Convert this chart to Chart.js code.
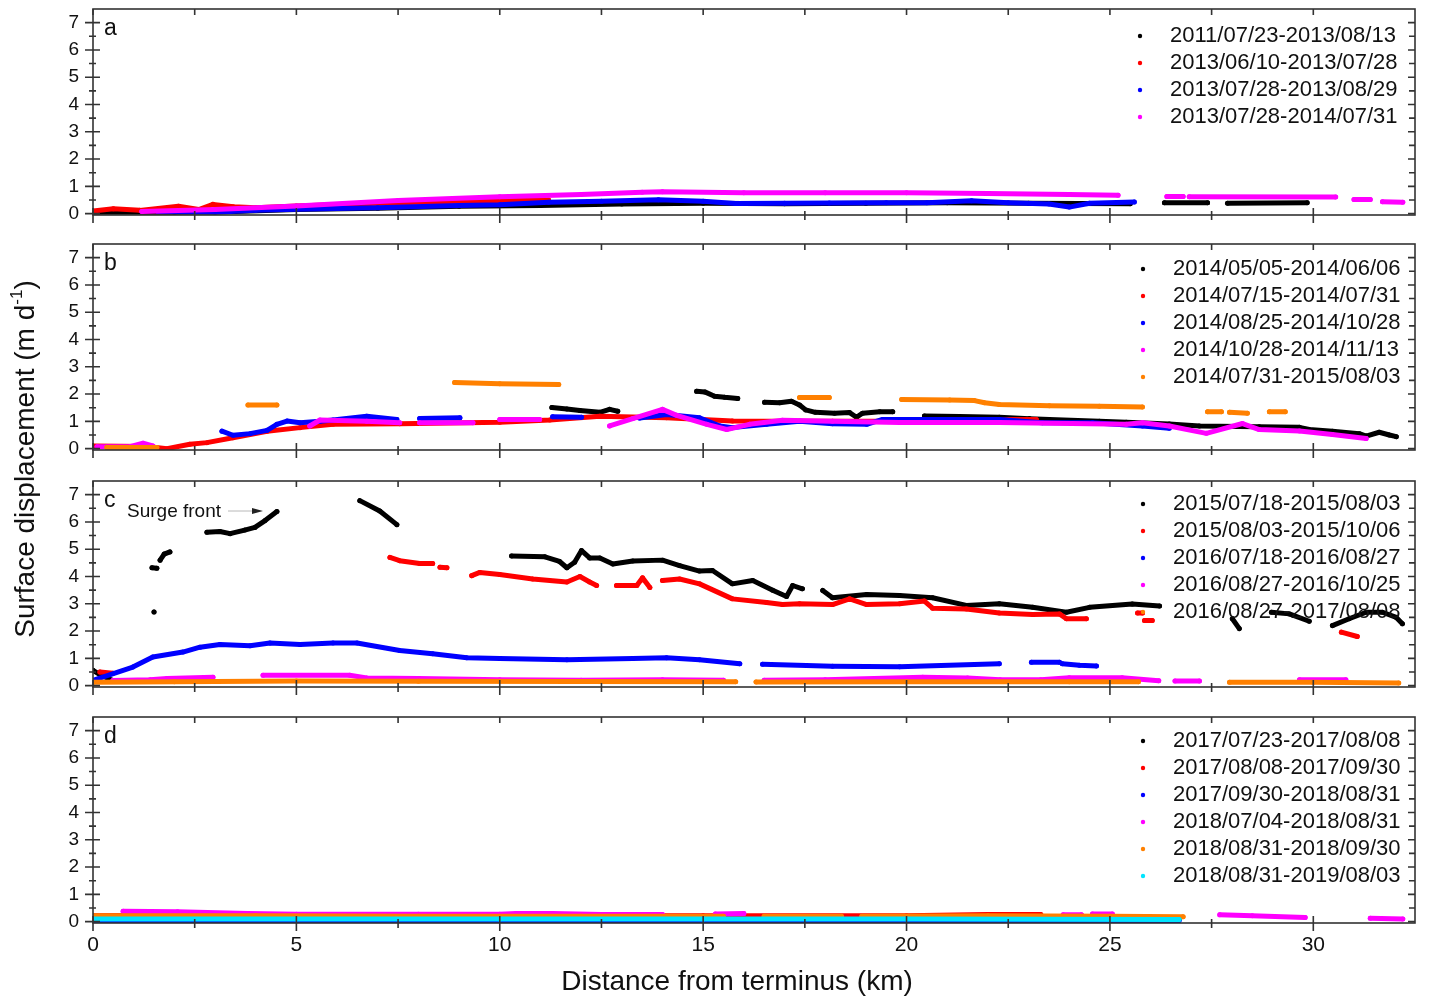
<!DOCTYPE html>
<html>
<head>
<meta charset="utf-8">
<title>Surface displacement along the glacier</title>
<script src="https://cdn.jsdelivr.net/npm/chart.js@4.4.1/dist/chart.umd.min.js"></script>
<style>
  html, body { margin: 0; padding: 0; background: #ffffff; overflow: hidden; }
  #wrap { position: relative; width: 1429px; height: 1000px; }
  #wrap canvas { position: absolute; left: 0; }
  .axis-title {
    position: absolute; width: 420px; height: 36px; line-height: 36px;
    text-align: center; white-space: nowrap; color: #111;
    font-family: "Liberation Sans", Arial, sans-serif; font-size: 28px;
  }
  #ytitle { left: -185px; top: 441px; transform: rotate(-90deg); transform-origin: 50% 50%; }
  #ytitle sup { font-size: 17px; vertical-align: 12px; line-height: 0; }
  #xtitle { left: 527px; top: 963px; }
</style>
</head>
<body>
<div id="wrap">
  <canvas id="pa"></canvas>
  <canvas id="pb"></canvas>
  <canvas id="pc"></canvas>
  <canvas id="pd"></canvas>
  <div id="ytitle" class="axis-title">Surface displacement (m d<sup>-1</sup>)</div>
  <div id="xtitle" class="axis-title">Distance from terminus (km)</div>
</div>
<script>
// ---- axis ticks ----
const xMajorTicks = [0, 5, 10, 15, 20, 25, 30];
const xMinorTicks = [2.5, 7.5, 12.5, 17.5, 22.5, 27.5, 32.5];
const yMajorTicks = [0, 1, 2, 3, 4, 5, 6, 7];
const yMinorTicks = [0.5, 1.5, 2.5, 3.5, 4.5, 5.5, 6.5];

// ---- legend labels (acquisition pairs) ----
const labelsA = ['2011/07/23-2013/08/13', '2013/06/10-2013/07/28', '2013/07/28-2013/08/29', '2013/07/28-2014/07/31'];
const labelsB = ['2014/05/05-2014/06/06', '2014/07/15-2014/07/31', '2014/08/25-2014/10/28', '2014/10/28-2014/11/13', '2014/07/31-2015/08/03'];
const labelsC = ['2015/07/18-2015/08/03', '2015/08/03-2015/10/06', '2016/07/18-2016/08/27', '2016/08/27-2016/10/25', '2016/08/27-2017/08/08'];
const labelsD = ['2017/07/23-2017/08/08', '2017/08/08-2017/09/30', '2017/09/30-2018/08/31', '2018/07/04-2018/08/31', '2018/08/31-2018/09/30', '2018/08/31-2019/08/03'];

// ---- profiles: [distance km, displacement m/d], split into continuous runs ----
// panel a
const a1 = [[[0,0.05],[2,0.05],[3.5,0.08],[5,0.15],[7,0.2],[9,0.27],[11,0.3],[13,0.35],[15,0.38],[17,0.36],[19,0.38],[21,0.4],[23,0.38],[25.5,0.36]],
            [[26.34,0.4],[27.4,0.4]], [[27.89,0.38],[29.85,0.4]]];
const a2 = [[[0,0.1],[0.5,0.18],[1.15,0.12],[2.1,0.27],[2.6,0.15],[2.95,0.34],[3.45,0.25],[4,0.22],[5,0.28],[7,0.38],[9,0.45],[10,0.48],[11.2,0.5]]];
const a3 = [[[1.6,0.08],[3,0.05],[4,0.12],[5,0.16],[7,0.22],[9,0.3],[10,0.33],[11.2,0.42],[12.5,0.45],[13.9,0.51],[15,0.45],[15.8,0.37],[17,0.38],[18.1,0.39],[19.5,0.4],[20.5,0.4],[21.6,0.47],[22.5,0.4],[23.5,0.35],[24,0.24],[24.5,0.38],[25.6,0.43]]];
const a4 = [[[1.2,0.08],[3,0.15],[5,0.28],[7.5,0.48],[10,0.62],[12,0.7],[13.5,0.78],[14,0.8],[16,0.77],[18,0.77],[20,0.77],[22,0.74],[24,0.7],[25.2,0.67]],
            [[26.4,0.63],[26.8,0.63]], [[26.95,0.62],[30.55,0.61]], [[31.0,0.52],[31.4,0.52]], [[31.7,0.44],[32.2,0.42]]];

// panel b
const b1 = [[[11.28,1.51],[11.65,1.45],[11.97,1.4],[12.46,1.33],[12.7,1.44],[12.9,1.37]],
            [[14.84,2.1],[15.04,2.08],[15.28,1.92],[15.53,1.88],[15.85,1.84]],
            [[16.51,1.7],[16.88,1.68],[17.17,1.74],[17.37,1.6],[17.52,1.42],[17.76,1.33],[18.23,1.3],[18.6,1.32],[18.77,1.15],[18.92,1.3],[19.34,1.35],[19.66,1.35]],
            [[20.44,1.2],[21.3,1.18],[22.28,1.15],[23.02,1.1],[23.51,1.07],[24.74,1.0],[25.4,0.97],[26.46,0.9],[27.2,0.83],[28.67,0.8],[29.66,0.78],[29.9,0.7],[30.47,0.64],[31.13,0.55],[31.3,0.46],[31.62,0.6],[31.87,0.5],[32.04,0.44]]];
const b2 = [[[0,0.1],[1.33,0.08],[1.82,0.0],[2.38,0.16],[2.8,0.22],[3.44,0.4],[4.28,0.64],[5.09,0.77],[5.9,0.89],[7.54,0.91],[10,0.97],[11.23,1.05],[12.46,1.19],[14.1,1.13],[15.72,1.01],[18.18,1.0],[20.64,1.0],[22.28,1.03],[22.53,1.07],[23.19,1.07]]];
const b3 = [[[3.17,0.64],[3.44,0.49],[3.86,0.55],[4.28,0.67],[4.52,0.89],[4.77,1.01],[5.09,0.95],[5.58,1.0],[5.9,1.05],[6.73,1.19],[7.47,1.07]],
            [[8.03,1.1],[9.02,1.13]],
            [[11.3,1.17],[12.01,1.15]],
            [[13.44,1.12],[14.1,1.25],[14.91,1.13],[15.41,0.83],[15.72,0.77],[16.56,0.89],[17.37,1.0],[18.18,0.91],[19.02,0.89],[19.41,1.07],[22.28,1.07],[23.34,0.95],[24.57,0.95],[25.8,0.83],[26.46,0.75]]];
const b4 = [[[0.1,0.07],[0.91,0.07],[1.23,0.2],[1.47,0.1]],
            [[5.33,0.83],[5.58,1.05],[6.73,1.0],[7.54,0.95]],
            [[8.03,0.95],[9.34,0.95]],
            [[10,1.07],[10.98,1.07]],
            [[12.7,0.83],[13.27,1.1],[14.0,1.44],[14.35,1.22],[15.09,0.89],[15.58,0.7],[16.14,0.89],[16.95,1.04],[18.18,1.0],[19.83,0.96],[22.28,0.96],[25.4,0.89],[25.8,0.95],[26.46,0.83],[27.37,0.56],[28.26,0.92],[28.67,0.7],[29.66,0.65],[30.47,0.52],[31.3,0.37]]];
const b5 = [[[0.34,0.04],[1.57,0.04]],
            [[3.81,1.6],[4.52,1.6]],
            [[8.89,2.42],[10,2.38],[11.45,2.35]],
            [[17.37,1.87],[18.1,1.87]],
            [[19.88,1.8],[21.06,1.78],[21.67,1.76],[21.92,1.68],[22.28,1.62],[23.51,1.57],[24.74,1.55],[25.8,1.53]],
            [[27.4,1.35],[27.74,1.35]],
            [[27.94,1.33],[28.38,1.3]],
            [[28.92,1.35],[29.31,1.35]]];

// panel c
const c1 = [[[0,0.56],[0.17,0.4],[0.49,0.19]],
            [[1.5,2.7]],
            [[1.45,4.32],[1.57,4.3]],
            [[1.65,4.6],[1.75,4.82],[1.89,4.9]],
            [[2.8,5.62],[3.12,5.65],[3.37,5.57],[3.73,5.7],[3.98,5.8],[4.23,6.05],[4.52,6.38]],
            [[6.56,6.78],[7.05,6.4],[7.47,5.9]],
            [[10.29,4.75],[11.11,4.72],[11.47,4.55],[11.65,4.32],[11.84,4.52],[12.01,4.95],[12.21,4.68],[12.46,4.68],[12.78,4.46],[13.27,4.57],[14.0,4.6],[14.42,4.4],[14.91,4.2],[15.23,4.22],[15.72,3.73],[16.22,3.85],[16.71,3.5],[17.05,3.27],[17.2,3.67],[17.44,3.55]],
            [[17.94,3.49],[18.18,3.22],[19.02,3.34],[19.83,3.3],[20.64,3.22],[21.47,2.94],[22.28,3.0],[23.1,2.87],[23.93,2.69],[24.5,2.87],[25.55,2.99],[26.22,2.92]],
            [[28.01,2.45],[28.18,2.09]],
            [[28.97,2.69],[29.41,2.63],[29.9,2.36]],
            [[30.47,2.2],[30.88,2.45],[31.3,2.69],[31.7,2.69],[32.04,2.5],[32.19,2.27]]];
const c2 = [[[0.17,0.5],[0.49,0.45]],
            [[7.3,4.7],[7.54,4.58],[8.03,4.48],[8.35,4.48]],
            [[8.53,4.34],[8.7,4.32]],
            [[9.31,4.03],[9.51,4.15],[10,4.07],[10.81,3.91],[11.65,3.8],[11.97,4.0],[12.21,3.8],[12.38,3.67]],
            [[12.87,3.67],[13.37,3.67],[13.51,3.95],[13.69,3.6]],
            [[14.0,3.85],[14.42,3.91],[14.91,3.73],[15.72,3.18],[16.56,3.05],[16.95,2.97],[17.37,3.0],[18.18,2.97],[18.6,3.18],[19.02,2.97],[19.83,3.0],[20.44,3.1],[20.64,2.84],[21.47,2.81],[22.28,2.66],[23.1,2.61],[23.76,2.63],[23.93,2.45],[24.42,2.45]],
            [[25.68,2.66],[25.8,2.66]],
            [[25.85,2.39],[26.04,2.39]],
            [[30.69,1.96],[31.08,1.8]]];
const c3 = [[[0,0.19],[0.98,0.68],[1.47,1.05],[2.21,1.23],[2.63,1.41],[3.12,1.51],[3.86,1.46],[4.35,1.56],[5.09,1.51],[5.9,1.56],[6.49,1.56],[7.54,1.29],[8.35,1.17],[9.19,1.02],[10,0.99],[11.65,0.95],[13.27,0.99],[14.1,1.02],[14.91,0.95],[15.9,0.8]],
            [[16.46,0.78],[18.18,0.71],[19.83,0.69],[22.28,0.8]],
            [[23.07,0.86],[23.76,0.86]],
            [[23.83,0.8],[24.25,0.75],[24.67,0.72]]];
const c4 = [[[0.49,0.19],[1.4,0.22],[1.82,0.26],[2.95,0.31]],
            [[4.18,0.38],[6.31,0.38],[6.73,0.28],[8,0.26],[10,0.22],[12,0.2],[14,0.22],[15.5,0.2]],
            [[16.5,0.2],[18,0.22],[20.4,0.31],[21.5,0.28],[22.3,0.22],[23.3,0.22],[24.0,0.29],[25.3,0.29],[26.2,0.18]],
            [[26.6,0.17],[27.2,0.17]],
            [[29.66,0.22],[30.8,0.22]]];
const c5 = [[[0,0.12],[2,0.14],[5,0.17],[8,0.16],[12,0.15],[15.8,0.14]],
            [[16.3,0.13],[20,0.14],[24,0.14],[25.7,0.14]],
            [[27.94,0.12],[30,0.12],[32.1,0.1]]];

// panel d
const d1 = [[[0,0.08],[26.7,0.08]]];
const d2 = [[[0,0.22],[5,0.24],[7.5,0.24],[10,0.22],[15,0.22],[20,0.22],[22,0.26],[23.3,0.26]]];
const d3 = [[[0,0.04],[26.7,0.04]]];
const d4 = [[[0.74,0.38],[2.08,0.36],[3.8,0.3],[5,0.27],[8,0.27],[10,0.27],[10.4,0.3],[11.3,0.3],[12.5,0.26],[14,0.26]],
            [[15.3,0.28],[16.0,0.3]], [[23.85,0.25],[24.3,0.25]], [[24.57,0.28],[25.06,0.28]],
            [[27.7,0.25],[28.5,0.22],[29.8,0.15]], [[31.4,0.12],[32.2,0.1]]];
const d5 = [[[0,0.22],[4,0.22],[8,0.2],[12,0.2],[15.5,0.2]], [[16.5,0.2],[18.4,0.2]], [[18.9,0.2],[22,0.22],[25,0.2],[26.8,0.18]]];
const d6 = [[[0,0.1],[5,0.1],[10,0.1],[15,0.1],[20,0.1],[26.7,0.08]]];

const palette = ['#000000', '#ff0000', '#0000ff', '#ff00ff', '#ff8000', '#00e5ff'];

// ---- layout ----
const FONT = '"Liberation Sans", Arial, sans-serif';
const PAD = 30;          // room above / below each plot frame inside its canvas
const PLOT_H = 206;      // frame height of one panel
const X_MIN = 0, X_MAX = 32.5, Y_MIN = -0.05, Y_MAX = 7.5;

const panels = [
  { id: 'pa', top: 9,   letter: 'a', labels: labelsA, series: [a1, a2, a3, a4],         legendTop: 27, legendX: 1140 },
  { id: 'pb', top: 244, letter: 'b', labels: labelsB, series: [b1, b2, b3, b4, b5],     legendTop: 25, legendX: 1143 },
  { id: 'pc', top: 481, letter: 'c', labels: labelsC, series: [c1, c2, c3, c4, c5],     legendTop: 23, legendX: 1143, surge: true },
  { id: 'pd', top: 717, letter: 'd', labels: labelsD, series: [d1, d2, d3, d4, d5, d6], legendTop: 24, legendX: 1143, bottom: true }
];

// join runs into one point list, with a null between runs to break the line
function toPoints(runs) {
  const pts = [];
  runs.forEach((run, i) => {
    if (i > 0) pts.push({ x: run[0][0], y: null });
    run.forEach(([x, y]) => pts.push({ x, y }));
  });
  return pts;
}

// frame, mirrored ticks, panel letter, legend and annotation
const framePlugin = {
  id: 'frame',
  afterDatasetsDraw(chart, args, opts) {
    const ctx = chart.ctx;
    const { left, right, top, bottom } = chart.chartArea;
    const xs = chart.scales.x, ys = chart.scales.y;
    ctx.save();
    ctx.strokeStyle = '#333333';
    ctx.lineWidth = 1.6;
    ctx.strokeRect(left, top, right - left, bottom - top);
    ctx.beginPath();
    yMajorTicks.forEach(v => {
      const p = ys.getPixelForValue(v);
      ctx.moveTo(left - 8, p); ctx.lineTo(left + 7, p);
      ctx.moveTo(right - 7, p); ctx.lineTo(right, p);
    });
    yMinorTicks.forEach(v => {
      const p = ys.getPixelForValue(v);
      ctx.moveTo(left - 4, p); ctx.lineTo(left + 3, p);
      ctx.moveTo(right - 6, p); ctx.lineTo(right, p);
    });
    xMajorTicks.forEach(v => {
      const p = xs.getPixelForValue(v);
      ctx.moveTo(p, bottom - 7); ctx.lineTo(p, bottom + 8);
      ctx.moveTo(p, top); ctx.lineTo(p, top + 6);
    });
    xMinorTicks.forEach(v => {
      if (v >= X_MAX) return;
      const p = xs.getPixelForValue(v);
      ctx.moveTo(p, bottom - 4); ctx.lineTo(p, bottom + 5);
      ctx.moveTo(p, top); ctx.lineTo(p, top + 6);
    });
    ctx.stroke();

    // panel letter
    ctx.fillStyle = '#111111';
    ctx.font = '23px ' + FONT;
    ctx.textAlign = 'left';
    ctx.textBaseline = 'alphabetic';
    ctx.fillText(opts.letter, left + 11, top + 26);

    // legend
    ctx.font = '22px ' + FONT;
    ctx.textBaseline = 'middle';
    chart.data.datasets.forEach((ds, i) => {
      const y = top + opts.legendTop + i * 27;
      ctx.fillStyle = ds.borderColor;
      ctx.beginPath();
      ctx.arc(opts.legendX, y, 2.2, 0, Math.PI * 2);
      ctx.fill();
      ctx.fillStyle = '#111111';
      ctx.fillText(ds.label, opts.legendX + 30, y);
    });

    // surge front note
    if (opts.surge) {
      const y = top + 31;
      ctx.font = '19px ' + FONT;
      ctx.fillStyle = '#111111';
      ctx.fillText('Surge front', left + 34, y);
      ctx.strokeStyle = '#b8b8b8';
      ctx.lineWidth = 1;
      ctx.beginPath();
      ctx.moveTo(left + 135, y - 1); ctx.lineTo(left + 160, y - 1);
      ctx.stroke();
      ctx.fillStyle = '#222222';
      ctx.beginPath();
      ctx.moveTo(left + 159, y - 4); ctx.lineTo(left + 170, y - 1); ctx.lineTo(left + 159, y + 2);
      ctx.closePath();
      ctx.fill();
    }
    ctx.restore();
  }
};

panels.forEach(p => {
  const bottomH = p.bottom ? 60 : PAD;
  const canvas = document.getElementById(p.id);
  canvas.width = 1429;
  canvas.height = PAD + PLOT_H + bottomH;
  canvas.style.top = (p.top - PAD) + 'px';

  const datasets = p.series.map((runs, i) => ({
    label: p.labels[i],
    data: toPoints(runs),
    showLine: true,
    spanGaps: false,
    borderColor: palette[i],
    backgroundColor: palette[i],
    borderWidth: 5,
    borderCapStyle: 'round',
    borderJoinStyle: 'round',
    tension: 0,
    pointRadius: 2.5,
    pointBorderWidth: 0,
    pointHoverRadius: 2.5,
    pointBackgroundColor: palette[i],
    order: -i
  }));

  new Chart(canvas, {
    type: 'scatter',
    data: { datasets },
    options: {
      responsive: false,
      animation: false,
      devicePixelRatio: 1,
      layout: { padding: { top: PAD, right: 14, left: 0, bottom: 0 } },
      plugins: {
        legend: { display: false },
        tooltip: { enabled: false },
        frame: { letter: p.letter, legendTop: p.legendTop, legendX: p.legendX, surge: !!p.surge }
      },
      scales: {
        x: {
          type: 'linear', min: X_MIN, max: X_MAX,
          grid: { display: false, drawTicks: false },
          border: { display: false },
          afterBuildTicks: s => { s.ticks = xMajorTicks.map(v => ({ value: v })); },
          afterFit: s => { s.height = bottomH; },
          ticks: {
            display: !!p.bottom, padding: 10, color: '#111111',
            font: { family: FONT, size: 21 }, maxRotation: 0, autoSkip: false
          }
        },
        y: {
          type: 'linear', min: Y_MIN, max: Y_MAX,
          grid: { display: false, drawTicks: false },
          border: { display: false },
          afterBuildTicks: s => { s.ticks = yMajorTicks.map(v => ({ value: v })); },
          afterFit: s => { s.width = 93; },
          ticks: { padding: 14, color: '#111111', font: { family: FONT, size: 19 }, autoSkip: false }
        }
      }
    },
    plugins: [framePlugin]
  });
});
</script>
</body>
</html>
